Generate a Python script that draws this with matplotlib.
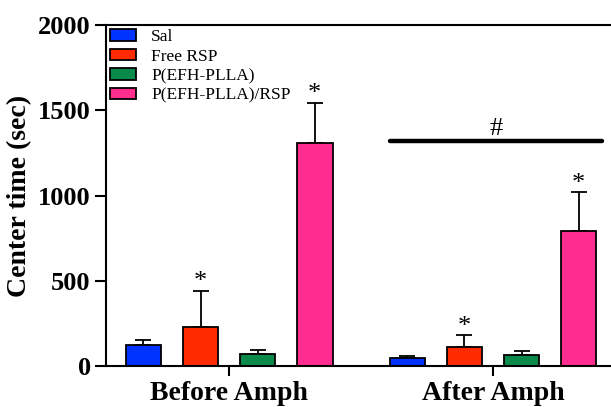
import matplotlib
matplotlib.use("Agg")
import matplotlib.pyplot as plt
import numpy as np

groups = ["Before Amph", "After Amph"]
series = ["Sal", "Free RSP", "P(EFH-PLLA)", "P(EFH-PLLA)/RSP"]
colors = ["#0033FF", "#FF2A00", "#0A8A4A", "#FF2D8F"]
means = {
    "Sal": [123, 45],
    "Free RSP": [227, 111],
    "P(EFH-PLLA)": [69, 64],
    "P(EFH-PLLA)/RSP": [1306, 792],
}
errs = {
    "Sal": [31, 14],
    "Free RSP": [215, 69],
    "P(EFH-PLLA)": [23, 24],
    "P(EFH-PLLA)/RSP": [238, 227],
}
stars = {
    "Free RSP": [True, True],
    "P(EFH-PLLA)/RSP": [True, True],
}

plt.rcParams["font.family"] = ["Liberation Serif", "DejaVu Serif"]

fig = plt.figure(figsize=(6.11, 4.07), dpi=100)
ax = fig.add_axes([0.1735, 0.1007, 0.8265, 0.8379])

x = np.arange(len(groups))
pitch = 0.216
width = 0.136
for i, s in enumerate(series):
    pos = x + (i - 1.5) * pitch
    ax.bar(pos, means[s], width, color=colors[i], edgecolor="black",
           linewidth=1.3, label=s, zorder=2)
    ax.errorbar(pos, means[s], yerr=[np.zeros(len(groups)), errs[s]],
                fmt="none", ecolor="black", elinewidth=1.3, capsize=6,
                capthick=1.3, zorder=1)
    if s in stars:
        for j, flag in enumerate(stars[s]):
            if flag:
                top = means[s][j] + errs[s][j]
                ax.text(pos[j], top - 15, "*", ha="center", va="bottom",
                        fontsize=19, fontweight="normal")

# significance line for After group
x0 = x[1] - 1.5 * pitch - width / 2
x1 = x[1] + 1.5 * pitch + width / 2 + 0.02
ax.plot([x0, x1], [1320, 1320], color="black", lw=3.2, solid_capstyle="round")
ax.text((x0 + x1) / 2, 1325, "#", ha="center", va="bottom", fontsize=19)

ax.set_xlim(-0.466, 1.447)
ax.set_ylim(0, 2000)
ax.set_yticks([0, 500, 1000, 1500, 2000])
ax.set_xticks(x)
ax.set_xticklabels(groups, fontsize=20, fontweight="bold")
ax.set_yticklabels([str(v) for v in [0, 500, 1000, 1500, 2000]],
                   fontsize=19, fontweight="bold")
ax.set_ylabel("Center time (sec)", fontsize=20, fontweight="bold", labelpad=4)

ax.spines["right"].set_visible(False)
for sp in ["left", "bottom", "top"]:
    ax.spines[sp].set_linewidth(1.5)
ax.tick_params(axis="y", length=8, width=1.5, pad=3)
ax.tick_params(axis="x", length=7, width=1.5, pad=4)

leg = ax.legend(loc="upper left", bbox_to_anchor=(0.0, 1.0), frameon=False,
                fontsize=12.5, handlelength=1.45, handleheight=0.65,
                labelspacing=0.2, handletextpad=0.9, borderaxespad=0.0,
                borderpad=0.25)

fig.savefig("out.png", dpi=100)
